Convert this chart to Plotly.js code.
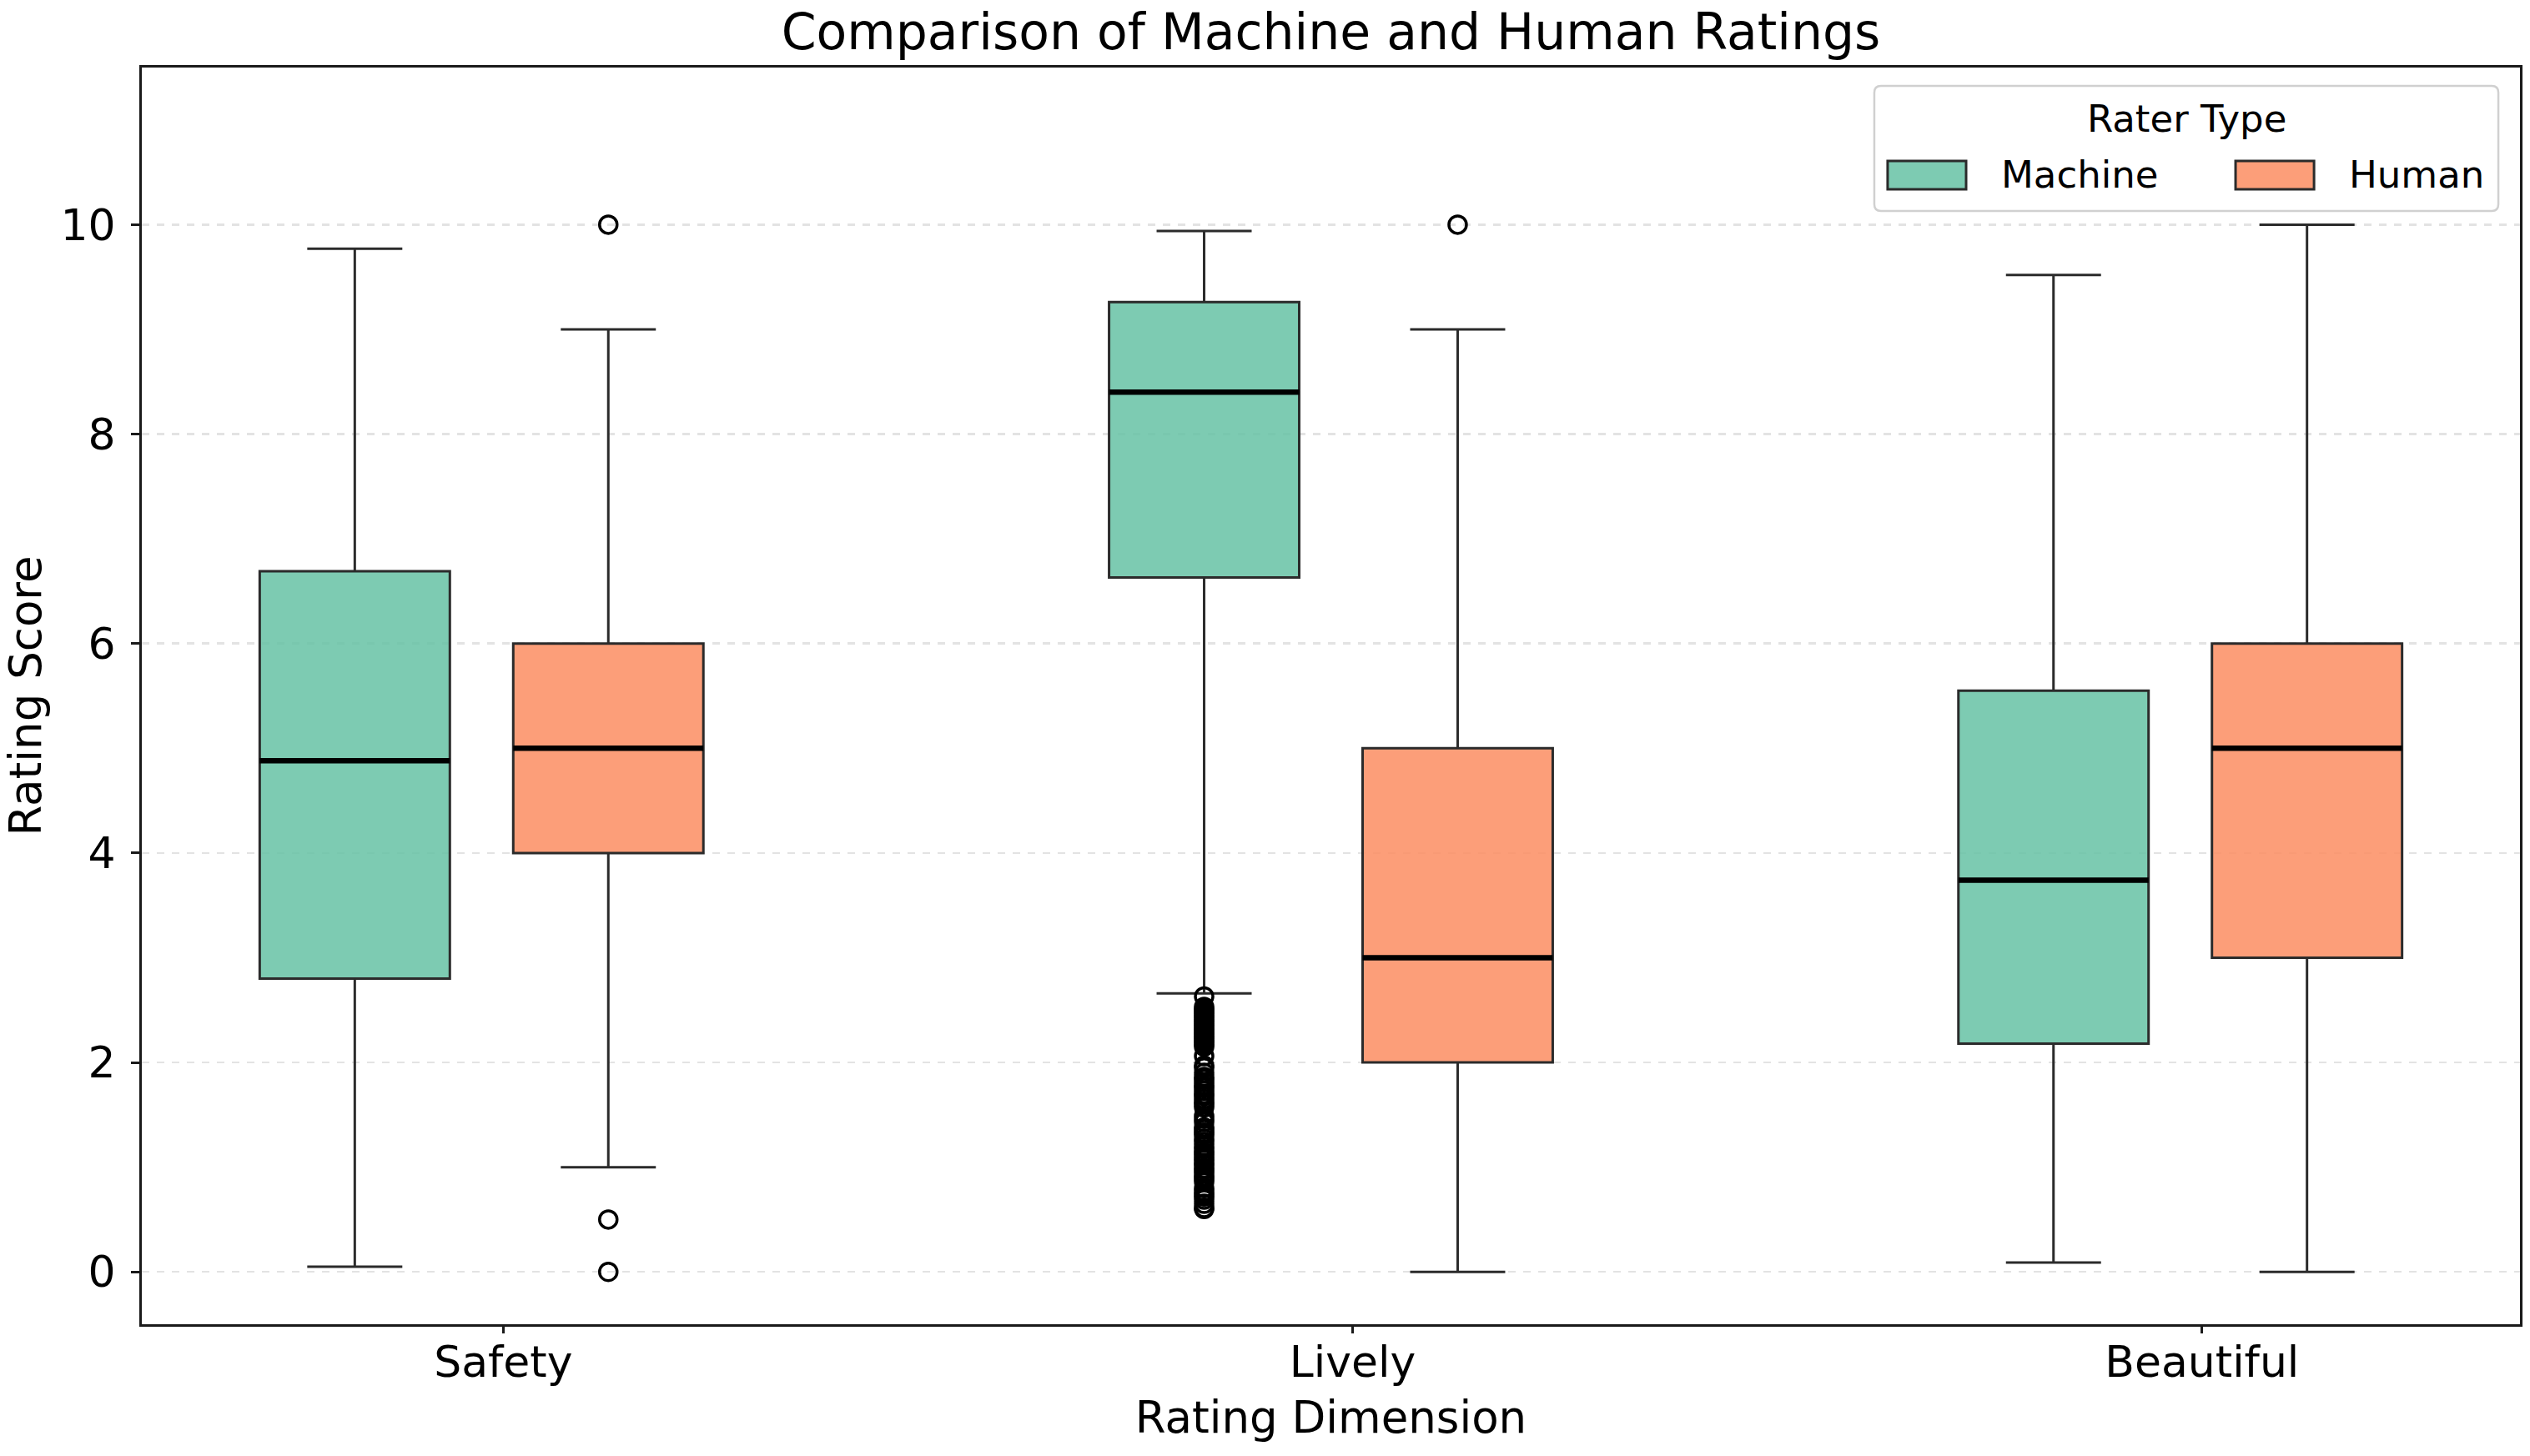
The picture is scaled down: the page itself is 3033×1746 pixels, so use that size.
<!DOCTYPE html>
<html>
<head>
<meta charset="utf-8">
<script src="https://cdn.plot.ly/plotly-3.0.1.min.js"></script>
<style>html,body{margin:0;padding:0;background:#fff;}</style>
</head>
<body>
<div id="chart" style="width:3033px;height:1746px;"></div>
<script>
// ---- data ----
var categories = ['Safety', 'Lively', 'Beautiful'];
var categoryTickIndex = [0, 1, 2];

var machineQ1     = [2.80, 6.63, 2.18];
var machineMedian = [4.88, 8.40, 3.74];
var machineQ3     = [6.69, 9.26, 5.55];
var machineLower  = [0.05, 2.66, 0.09];
var machineUpper  = [9.77, 9.94, 9.52];

var humanQ1     = [4.0, 2.0, 3.0];
var humanMedian = [5.0, 3.0, 5.0];
var humanQ3     = [6.0, 5.0, 6.0];
var humanLower  = [1.0, 0.0, 0.0];
var humanUpper  = [9.0, 9.0, 10.0];

// outliers
var machineOutlierValues = [2.63, 2.53, 2.51, 2.49, 2.47, 2.45, 2.43, 2.41, 2.39, 2.37,
  2.35, 2.33, 2.31, 2.29, 2.27, 2.25, 2.23, 2.21, 2.19, 2.17, 2.15, 2.06, 1.97, 1.95,
  1.90, 1.86, 1.84, 1.81, 1.78, 1.76, 1.73, 1.70, 1.68, 1.65, 1.62, 1.60, 1.57, 1.49,
  1.46, 1.43, 1.38, 1.36, 1.33, 1.31, 1.27, 1.24, 1.20, 1.17, 1.14, 1.12, 1.09, 1.07,
  1.04, 1.02, 0.99, 0.97, 0.94, 0.91, 0.89, 0.86, 0.80, 0.77, 0.74, 0.72, 0.69, 0.65,
  0.61, 0.60];
var machineOutlierCats = machineOutlierValues.map(function(){ return 'Lively'; });
var humanOutlierCats   = ['Safety', 'Safety', 'Safety', 'Lively'];
var humanOutlierValues = [10.0, 0.5, 0.0, 10.0];

var seriesNames = ['Machine', 'Human'];
var legendTitle = 'Rater Type';

// ---- styles ----
var FONT = 'DejaVu Sans, Liberation Sans, sans-serif';
var machineFill = 'rgba(102,194,165,0.85)';
var humanFill   = 'rgba(252,141,98,0.85)';
var edgeColor   = '#2b2b2b';

function statBox(name, group, q1, med, q3, lo, hi, fill) {
  return {
    type: 'box', name: name, x: categories,
    q1: q1, median: med, q3: q3, lowerfence: lo, upperfence: hi,
    boxpoints: false, fillcolor: fill,
    line: {color: edgeColor, width: 3},
    whiskerwidth: 0.5,
    offsetgroup: group, alignmentgroup: 'a',
    showlegend: false, hoverinfo: 'skip'
  };
}
function medianBox(group, med) {
  return {
    type: 'box', x: categories,
    q1: med, median: med, q3: med, lowerfence: med, upperfence: med,
    boxpoints: false, fillcolor: 'rgba(0,0,0,0)',
    line: {color: '#000000', width: 6.5},
    offsetgroup: group, alignmentgroup: 'a',
    showlegend: false, hoverinfo: 'skip'
  };
}
function outlierBox(group, cats, vals) {
  return {
    type: 'box', x: cats, y: vals,
    boxpoints: 'all', jitter: 0, pointpos: 0,
    fillcolor: 'rgba(0,0,0,0)', line: {color: 'rgba(0,0,0,0)', width: 0},
    marker: {symbol: 'circle-open', size: 21, color: '#000000', line: {width: 3.5}},
    offsetgroup: group, alignmentgroup: 'a',
    showlegend: false, hoverinfo: 'skip'
  };
}

var traces = [
  statBox(seriesNames[0], 'm', machineQ1, machineMedian, machineQ3, machineLower, machineUpper, machineFill),
  statBox(seriesNames[1], 'h', humanQ1, humanMedian, humanQ3, humanLower, humanUpper, humanFill),
  medianBox('m', machineMedian),
  medianBox('h', humanMedian),
  outlierBox('m', machineOutlierCats, machineOutlierValues),
  outlierBox('h', humanOutlierCats, humanOutlierValues),
  // empty trace so the tick-label axis is drawn
  {type: 'scatter', x: [], y: [], xaxis: 'x2', yaxis: 'y', showlegend: false, hoverinfo: 'skip'}
];

// manual legend (layout decoration)
var legendFramePath = 'M 0.7313,0.8859 L 0.9881,0.8859 Q 0.9909,0.8859 0.9909,0.8912 ' +
  'L 0.9909,0.9801 Q 0.9909,0.9854 0.9881,0.9854 L 0.7313,0.9854 Q 0.7285,0.9854 0.7285,0.9801 ' +
  'L 0.7285,0.8912 Q 0.7285,0.8859 0.7313,0.8859 Z';
var legendShapes = [
  {type: 'path', xref: 'paper', yref: 'paper', path: legendFramePath,
   line: {color: '#d0d0d0', width: 2.5}, fillcolor: 'rgba(255,255,255,0.85)', layer: 'above'},
  {type: 'rect', xref: 'paper', yref: 'paper', x0: 0.7341, x1: 0.7671, y0: 0.9031, y1: 0.9257,
   line: {color: edgeColor, width: 3}, fillcolor: machineFill, layer: 'above'},
  {type: 'rect', xref: 'paper', yref: 'paper', x0: 0.8804, x1: 0.9134, y0: 0.9031, y1: 0.9257,
   line: {color: edgeColor, width: 3}, fillcolor: humanFill, layer: 'above'}
];
var legendTexts = [
  {xref: 'paper', yref: 'paper', x: 0.8597, y: 0.9595, text: legendTitle, showarrow: false,
   xanchor: 'center', yanchor: 'middle', font: {family: FONT, size: 45, color: '#000'}},
  {xref: 'paper', yref: 'paper', x: 0.7811, y: 0.9144, text: seriesNames[0], showarrow: false,
   xanchor: 'left', yanchor: 'middle', font: {family: FONT, size: 45, color: '#000'}},
  {xref: 'paper', yref: 'paper', x: 0.9274, y: 0.9144, text: seriesNames[1], showarrow: false,
   xanchor: 'left', yanchor: 'middle', font: {family: FONT, size: 45, color: '#000'}}
];

var layout = {
  width: 3033, height: 1746,
  margin: {l: 170, r: 12, t: 81, b: 158, pad: 0},
  paper_bgcolor: '#ffffff', plot_bgcolor: '#ffffff',
  font: {family: FONT, color: '#000000'},
  boxmode: 'group', boxgap: 0.403, boxgroupgap: 0.25,
  showlegend: false,
  title: {text: 'Comparison of Machine and Human Ratings', font: {family: FONT, size: 60, color: '#000'},
          x: 0.5, xref: 'paper', xanchor: 'center', y: 0.978, yref: 'container', yanchor: 'middle'},
  xaxis: {
    type: 'category', categoryarray: categories, categoryorder: 'array',
    range: [-0.4, 2.4],
    showline: true, linecolor: '#1a1a1a', linewidth: 3, mirror: true,
    ticks: '', showticklabels: false,
    showgrid: false, zeroline: false
  },
  xaxis2: {
    overlaying: 'x', anchor: 'y', side: 'bottom',
    type: 'linear', range: [-0.4256, 2.3744],
    tickmode: 'array', tickvals: categoryTickIndex, ticktext: categories,
    showline: false, showgrid: false, zeroline: false,
    ticks: 'outside', ticklen: 10, tickwidth: 3, tickcolor: '#1a1a1a',
    ticklabelstandoff: -10,
    tickfont: {family: FONT, size: 52, color: '#000'},
    title: {text: 'Rating Dimension', font: {family: FONT, size: 53, color: '#000'}, standoff: 18}
  },
  yaxis: {
    range: [-0.5, 11.5],
    tickvals: [0, 2, 4, 6, 8, 10],
    showline: true, linecolor: '#1a1a1a', linewidth: 3, mirror: true,
    ticks: 'outside', ticklen: 10, tickwidth: 3, tickcolor: '#1a1a1a',
    ticklabelstandoff: 8,
    tickfont: {family: FONT, size: 52, color: '#000'},
    showgrid: true, gridcolor: '#e3e3e3', gridwidth: 2.5, griddash: 'dash',
    zeroline: false,
    title: {text: 'Rating Score', font: {family: FONT, size: 53, color: '#000'}, standoff: 14}
  },
  shapes: legendShapes,
  annotations: legendTexts
};

Plotly.newPlot('chart', traces, layout, {staticPlot: true, displayModeBar: false});
</script>
</body>
</html>
